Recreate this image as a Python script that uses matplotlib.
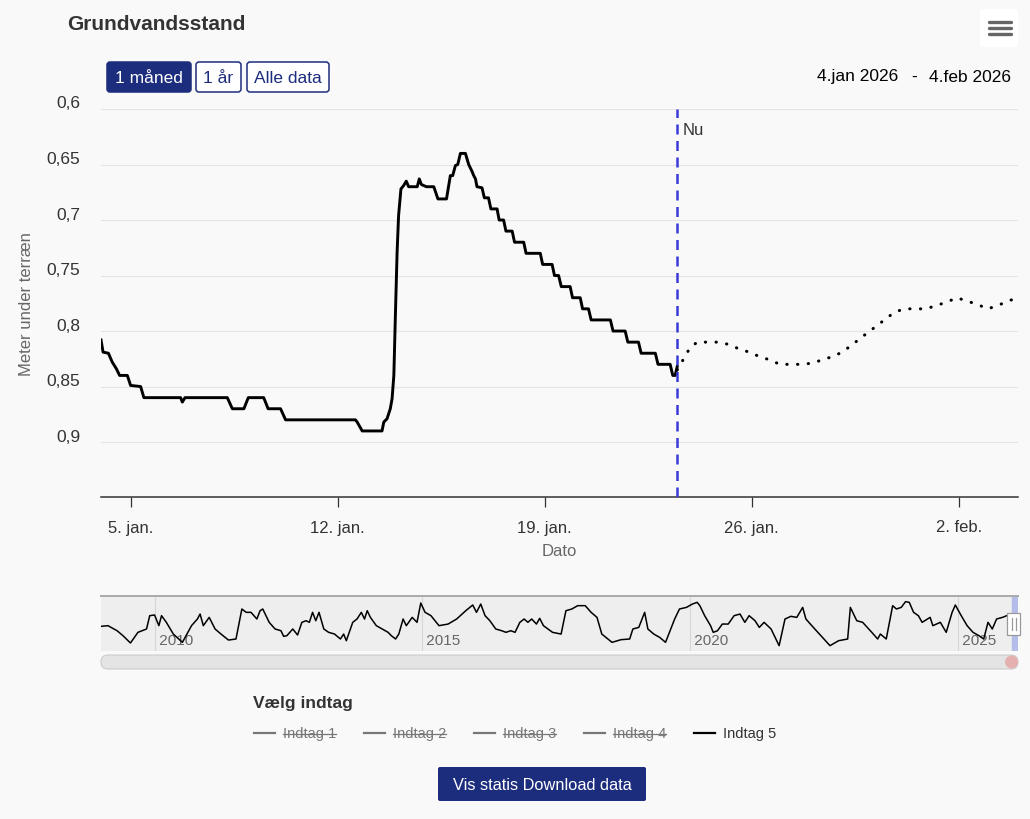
import matplotlib
matplotlib.use("Agg")
import matplotlib.pyplot as plt
import matplotlib.transforms as mtransforms
from matplotlib.patches import FancyBboxPatch, Rectangle, Circle
import pandas as pd

plt.rcParams['font.family'] = ['Liberation Sans', 'DejaVu Sans']

W, H = 1030, 820
start = pd.Timestamp("2026-01-04")
end = pd.Timestamp("2026-02-04")
nu_time = pd.Timestamp("2026-01-23 11:30")

# measured level (days after 4 jan 2026, meter under terrain)
obs_days = [0.00, 0.07, 0.25, 0.38, 0.52, 0.63, 0.89, 1.00, 1.34, 1.45,
            2.69, 2.75, 2.84, 4.27, 4.44, 4.83, 4.98, 5.50, 5.65, 6.07,
            6.24, 8.60, 8.66, 8.83, 9.50, 9.56, 9.67, 9.78, 9.84, 9.90,
            9.95, 10.01, 10.06, 10.14, 10.23, 10.32, 10.40, 10.69, 10.76, 10.83,
            11.00, 11.25, 11.39, 11.68, 11.81, 11.89, 11.98, 12.06, 12.15, 12.32,
            12.43, 12.54, 12.60, 12.66, 12.71, 12.88, 12.96, 13.10, 13.18, 13.39,
            13.46, 13.61, 13.69, 13.90, 13.98, 14.29, 14.37, 14.85, 14.93, 15.25,
            15.33, 15.47, 15.56, 15.86, 15.94, 16.20, 16.28, 16.48, 16.57, 17.22,
            17.31, 17.72, 17.81, 18.17, 18.26, 18.74, 18.83, 19.24, 19.33, 19.41,
            19.48]
obs_level = [0.808, 0.819, 0.820, 0.828, 0.834, 0.840, 0.840, 0.849, 0.850, 0.860,
             0.860, 0.864, 0.860, 0.860, 0.870, 0.870, 0.860, 0.860, 0.870, 0.870,
             0.880, 0.880, 0.882, 0.890, 0.890, 0.882, 0.879, 0.870, 0.861, 0.840,
             0.788, 0.729, 0.696, 0.672, 0.669, 0.665, 0.670, 0.670, 0.663, 0.668,
             0.670, 0.670, 0.681, 0.681, 0.660, 0.660, 0.651, 0.650, 0.640, 0.640,
             0.650, 0.656, 0.660, 0.663, 0.670, 0.671, 0.680, 0.680, 0.690, 0.690,
             0.700, 0.700, 0.710, 0.710, 0.720, 0.720, 0.730, 0.730, 0.740, 0.740,
             0.750, 0.750, 0.760, 0.760, 0.770, 0.770, 0.780, 0.780, 0.790, 0.790,
             0.800, 0.800, 0.810, 0.810, 0.820, 0.820, 0.830, 0.830, 0.840, 0.840,
             0.832]

# forecast (dotted)
fc_days = [19.48, 19.72, 19.89, 20.15, 20.86, 21.21, 21.56, 21.91, 22.26, 22.61,
           22.95, 23.67, 24.03, 24.38, 24.73, 25.06, 25.36, 25.65, 25.94, 26.24,
           26.53, 26.83, 27.16, 27.89, 28.24, 28.59, 28.93, 29.28, 29.62, 29.98,
           30.32, 30.66, 31.00]
fc_level = [0.835, 0.824, 0.816, 0.810, 0.810, 0.812, 0.816, 0.819, 0.823, 0.826,
            0.830, 0.830, 0.829, 0.826, 0.823, 0.819, 0.813, 0.807, 0.801, 0.795,
            0.789, 0.783, 0.780, 0.780, 0.777, 0.774, 0.770, 0.773, 0.776, 0.780,
            0.777, 0.773, 0.770]

y_ticks = [0.6, 0.65, 0.7, 0.75, 0.8, 0.85, 0.9]
y_labels = ["0,6", "0,65", "0,7", "0,75", "0,8", "0,85", "0,9"]
x_ticks = ["2026-01-05", "2026-01-12", "2026-01-19", "2026-01-26", "2026-02-02"]
x_labels = ["5. jan.", "12. jan.", "19. jan.", "26. jan.", "2. feb."]

# navigator overview (decimal year, meter under terrain)
nav_years = [2009.00, 2009.13, 2009.30, 2009.41, 2009.55, 2009.69, 2009.77, 2009.85, 2009.91, 2010.00,
             2010.08, 2010.13, 2010.22, 2010.35, 2010.52, 2010.69, 2010.80, 2010.85, 2010.91, 2011.02,
             2011.13, 2011.24, 2011.38, 2011.52, 2011.63, 2011.71, 2011.80, 2011.91, 2011.97, 2012.02,
             2012.14, 2012.25, 2012.36, 2012.41, 2012.47, 2012.58, 2012.67, 2012.75, 2012.83, 2012.89,
             2012.95, 2013.01, 2013.07, 2013.16, 2013.25, 2013.36, 2013.47, 2013.53, 2013.58, 2013.70,
             2013.78, 2013.86, 2013.92, 2013.97, 2014.03, 2014.14, 2014.25, 2014.36, 2014.42, 2014.50,
             2014.56, 2014.64, 2014.70, 2014.81, 2014.90, 2014.97, 2015.05, 2015.16, 2015.31, 2015.48,
             2015.64, 2015.81, 2015.94, 2016.01, 2016.09, 2016.17, 2016.26, 2016.37, 2016.48, 2016.56,
             2016.65, 2016.73, 2016.82, 2016.90, 2016.97, 2017.04, 2017.13, 2017.19, 2017.26, 2017.43,
             2017.59, 2017.68, 2017.79, 2017.90, 2018.04, 2018.15, 2018.26, 2018.35, 2018.54, 2018.71,
             2018.87, 2018.93, 2019.04, 2019.15, 2019.21, 2019.32, 2019.43, 2019.54, 2019.71, 2019.80,
             2019.93, 2020.04, 2020.13, 2020.18, 2020.27, 2020.38, 2020.43, 2020.51, 2020.60, 2020.71,
             2020.82, 2020.93, 2021.02, 2021.10, 2021.21, 2021.29, 2021.38, 2021.51, 2021.66, 2021.77,
             2021.88, 2021.99, 2022.10, 2022.16, 2022.27, 2022.44, 2022.61, 2022.77, 2022.94, 2022.99,
             2023.11, 2023.22, 2023.39, 2023.50, 2023.55, 2023.66, 2023.78, 2023.85, 2023.94, 2024.02,
             2024.09, 2024.17, 2024.26, 2024.33, 2024.48, 2024.53, 2024.67, 2024.78, 2024.89, 2024.95,
             2025.06, 2025.17, 2025.28, 2025.39, 2025.48, 2025.56, 2025.64, 2025.72, 2025.83, 2025.91]
nav_level = [0.716, 0.709, 0.762, 0.814, 0.891, 0.779, 0.762, 0.744, 0.604, 0.597,
             0.709, 0.604, 0.674, 0.797, 0.884, 0.709, 0.639, 0.587, 0.709, 0.622,
             0.744, 0.797, 0.860, 0.849, 0.534, 0.569, 0.569, 0.639, 0.552, 0.534,
             0.674, 0.744, 0.762, 0.821, 0.814, 0.744, 0.807, 0.674, 0.657, 0.674,
             0.569, 0.657, 0.569, 0.744, 0.779, 0.797, 0.849, 0.797, 0.867, 0.674,
             0.639, 0.569, 0.639, 0.552, 0.622, 0.709, 0.744, 0.779, 0.814, 0.849,
             0.797, 0.639, 0.709, 0.622, 0.674, 0.471, 0.569, 0.604, 0.709, 0.692,
             0.639, 0.552, 0.492, 0.569, 0.482, 0.604, 0.657, 0.744, 0.762, 0.779,
             0.762, 0.779, 0.674, 0.639, 0.674, 0.639, 0.692, 0.632, 0.709, 0.779,
             0.797, 0.552, 0.534, 0.499, 0.499, 0.569, 0.622, 0.797, 0.884, 0.856,
             0.849, 0.744, 0.727, 0.569, 0.744, 0.797, 0.832, 0.884, 0.639, 0.534,
             0.517, 0.482, 0.464, 0.499, 0.604, 0.709, 0.779, 0.762, 0.692, 0.692,
             0.604, 0.587, 0.674, 0.604, 0.657, 0.727, 0.674, 0.744, 0.919, 0.639,
             0.611, 0.622, 0.517, 0.639, 0.709, 0.814, 0.919, 0.867, 0.849, 0.517,
             0.657, 0.674, 0.779, 0.849, 0.797, 0.849, 0.499, 0.534, 0.517, 0.457,
             0.464, 0.569, 0.604, 0.674, 0.622, 0.709, 0.674, 0.779, 0.569, 0.492,
             0.604, 0.709, 0.779, 0.814, 0.849, 0.674, 0.744, 0.639, 0.622, 0.604]
nav_ticks = [2010, 2015, 2020, 2025]

buttons = ["1 måned", "1 år", "Alle data"]
legend_items = ["Indtag 1", "Indtag 2", "Indtag 3", "Indtag 4", "Indtag 5"]
legend_active = [False, False, False, False, True]

NAVY = "#1d2d7d"
BG = "#f9f9f9"

fig = plt.figure(figsize=(W / 100, H / 100), dpi=100)
fig.patch.set_facecolor(BG)


def frac(x0, y0, x1, y1):
    # pixel box (y from top) to figure fractions
    return [x0 / W, 1 - y1 / H, (x1 - x0) / W, (y1 - y0) / H]


# main chart
ax = fig.add_axes(frac(101, 110, 1018, 498))
ax.set_facecolor("none")
obs_t = start + pd.to_timedelta(obs_days, unit="D")
fc_t = start + pd.to_timedelta(fc_days, unit="D")
ax.plot(obs_t, obs_level, color="black", lw=2.1, solid_joinstyle="round", zorder=3)
ax.plot(fc_t, fc_level, color="black", lw=2.2, linestyle=(0, (0.1, 3.4)),
        dash_capstyle="round", zorder=3)
ax.axvline(nu_time, color="#3a3ad8", lw=1.8, linestyle=(0, (4, 2.6)), zorder=4)
ax.annotate("Nu", xy=(nu_time, 0.6), xytext=(4, -15), textcoords="offset points",
            ha="left", va="center", fontsize=12, color="#333333")

ax.set_xlim(start, end)
ax.set_ylim(0.9495, 0.6)
ax.set_yticks(y_ticks)
ax.set_yticklabels(y_labels)
ax.set_xticks(pd.to_datetime(x_ticks))
ax.set_xticklabels(x_labels)
ax.yaxis.grid(True, color="#e4e4e4", lw=0.8)
ax.set_axisbelow(True)
for s in ["top", "left", "right"]:
    ax.spines[s].set_visible(False)
ax.spines["bottom"].set_color("#333333")
ax.spines["bottom"].set_linewidth(1.1)
ax.tick_params(axis="y", length=0, pad=15, labelsize=12.5, labelcolor="#333333")
ax.tick_params(axis="x", length=7.2, width=0.9, color="#333333", pad=9,
               labelsize=12, labelcolor="#333333")
shift = mtransforms.ScaledTranslation(0, 7.5 / 100, fig.dpi_scale_trans)
for lab in ax.get_yticklabels():
    lab.set_transform(lab.get_transform() + shift)
ax.set_xlabel("Dato", fontsize=12, color="#666666", labelpad=6)

# navigator
nav = fig.add_axes(frac(101, 597, 1018, 652))
nav.set_facecolor("#eeeeee")
nav.plot(nav_years, nav_level, color="black", lw=1.1, zorder=3)
nav.set_xlim(2009.0, 2026.12)
nav.set_ylim(0.975, 0.3975)
nav.axvspan(2026.0, 2026.12, color="#b4bdea", zorder=2)
blend = mtransforms.blended_transform_factory(nav.transData, nav.transAxes)
for yr in nav_ticks:
    nav.axvline(yr, color="#d6d6d6", lw=0.8, zorder=1)
    nav.text(yr, 0.2, " " + str(yr), transform=blend, ha="left", va="center",
             fontsize=11, color="#666666", zorder=2)
nav.plot([0, 1], [1, 1], transform=nav.transAxes, color="#aaaaaa", lw=1.4, clip_on=False)
nav.set_xticks([])
nav.set_yticks([])
for s in nav.spines.values():
    s.set_visible(False)

# overlay in pixel coordinates for the page elements
ov = fig.add_axes([0, 0, 1, 1])
ov.set_xlim(0, W)
ov.set_ylim(H, 0)
ov.axis("off")
ov.patch.set_alpha(0)
ov.set_zorder(5)

ov.text(67, 25, "Grundvandsstand", fontsize=15, fontweight="bold", color="#333333",
        ha="left", va="center")

# menu icon
ov.add_patch(FancyBboxPatch((980, 10), 38, 38, boxstyle="round,pad=0,rounding_size=4",
                            fc="white", ec="none"))
for yy in [23, 29, 35]:
    ov.plot([989, 1011], [yy, yy], color="#666666", lw=2.4, solid_capstyle="round")

# range buttons
btn_x = [(107, 191), (196, 241), (247, 329)]
for i, (label, (x0, x1)) in enumerate(zip(buttons, btn_x)):
    active = i == 0
    ov.add_patch(FancyBboxPatch((x0, 63), x1 - x0, 30, boxstyle="round,pad=0,rounding_size=3",
                                fc=NAVY if active else "white", ec=NAVY, lw=1.1))
    ov.text((x0 + x1) / 2, 78.5, label, fontsize=12.5, ha="center", va="center",
            color="white" if active else NAVY)

ov.text(898, 77, "4.jan 2026", fontsize=12.5, ha="right", va="center", color="black")
ov.text(914, 77, "-", fontsize=12.5, ha="center", va="center", color="black")
ov.text(1011, 77, "4.feb 2026", fontsize=12.5, ha="right", va="center", color="black")

fig.text(27 / W, 1 - 304 / H, "Meter under terræn", rotation=90, fontsize=12,
         color="#666666", ha="center", va="center")

# navigator handle and scrollbar
ov.add_patch(Rectangle((1007, 614), 13, 22, fc="white", ec="#999999", lw=0.9))
for xx in [1011.5, 1015.5]:
    ov.plot([xx, xx], [619, 631], color="#999999", lw=0.9)
ov.add_patch(FancyBboxPatch((101, 656), 917, 14, boxstyle="round,pad=0,rounding_size=7",
                            fc="#e4e4e4", ec="#cccccc", lw=0.8))
ov.add_patch(Circle((1011.5, 663), 6.5, fc="#e4b0b0", ec="none"))

# legend
ov.text(253, 704, "Vælg indtag", fontsize=12.5, fontweight="bold", color="#333333",
        ha="left", va="center")
leg_x = [254, 364, 474, 584, 694]
leg_texts = []
for lx, name, on in zip(leg_x, legend_items, legend_active):
    col = "black" if on else "#777777"
    ov.plot([lx, lx + 21], [734, 734], color=col, lw=1.6)
    t = ov.text(lx + 29, 734, name, fontsize=10.5, color="#333333" if on else "#777777",
                ha="left", va="center")
    leg_texts.append((t, on))

fig.canvas.draw()
inv = ov.transData.inverted()
for t, on in leg_texts:
    if on:
        continue
    bb = t.get_window_extent()
    (x0, y0), (x1, y1) = inv.transform([(bb.x0, bb.y0), (bb.x1, bb.y1)])
    ym = (y0 + y1) / 2 + 0.5
    ov.plot([x0, x1], [ym, ym], color="#777777", lw=0.9)

# bottom button
ov.add_patch(FancyBboxPatch((438, 768), 208, 34, boxstyle="round,pad=0,rounding_size=2",
                            fc=NAVY, ec="none"))
ov.text(542, 785.5, "Vis statis Download data", fontsize=11.8, color="white",
        ha="center", va="center")

fig.savefig("out.png", dpi=100, facecolor=fig.get_facecolor())
